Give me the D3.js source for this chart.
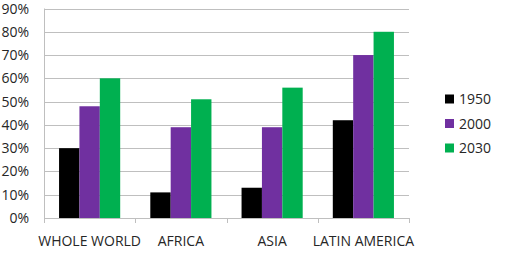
<!DOCTYPE html>
<html>
<head>
<meta charset="UTF-8">
<style>
body { margin: 0; background: #fff; }
svg { display: block; }
text { font-family: "Open Sans", sans-serif; fill: #262626; }
</style>
</head>
<body>
<svg width="512" height="254"></svg>
<script src="https://cdn.jsdelivr.net/npm/d3@7"></script>
<script>
var regions = ["WHOLE WORLD", "AFRICA", "ASIA", "LATIN AMERICA"];
var years = ["1950", "2000", "2030"];
var v1950 = [30, 11, 13, 42];
var v2000 = [48, 39, 39, 70];
var v2030 = [60, 51, 56, 80];
var yTicks = [0, 10, 20, 30, 40, 50, 60, 70, 80, 90];
var colors = ["#000000", "#7030a0", "#00b050"];

var series = [v1950, v2000, v2030];

var svg = d3.select("svg"),
    plotL = 44, plotR = 409, plotT = 8.5, plotB = 218;

var x = d3.scaleBand().domain(regions).range([plotL, plotR]).paddingInner(0.33).paddingOuter(0.165);
var xs = d3.scaleBand().domain(years).range([0, x.bandwidth()]);
var y = d3.scaleLinear().domain([0, 90]).range([plotB, plotT]);

// gridlines
svg.append("g").selectAll("line").data(yTicks).join("line")
    .attr("x1", plotL).attr("x2", plotR)
    .attr("y1", d => Math.round(y(d)) + 0.5).attr("y2", d => Math.round(y(d)) + 0.5)
    .attr("stroke", "#bfbfbf").attr("stroke-width", 1);

// y labels
svg.append("g").selectAll("text").data(yTicks).join("text")
    .attr("x", 29).attr("y", d => y(d)).attr("dy", "0.36em")
    .attr("text-anchor", "end").style("font-size", "14px")
    .text(d => d + "%");

// bars
regions.forEach((r, i) => {
  svg.append("g").selectAll("rect").data(series).join("rect")
      .attr("x", (s, j) => x(r) + xs(years[j]))
      .attr("width", xs.bandwidth())
      .attr("y", s => y(s[i]))
      .attr("height", s => plotB - y(s[i]))
      .attr("fill", (s, j) => colors[j]);
});

// x axis line + category ticks
var xTickPos = [plotL].concat(regions.map(r => x(r) + x.bandwidth() + x.step() * x.paddingInner() / 2));
svg.append("line").attr("x1", plotL).attr("x2", plotR)
    .attr("y1", plotB + 0.5).attr("y2", plotB + 0.5).attr("stroke", "#bfbfbf");
svg.append("g").selectAll("line").data(xTickPos).join("line")
    .attr("x1", d => Math.round(d) + 0.5).attr("x2", d => Math.round(d) + 0.5)
    .attr("y1", plotB).attr("y2", plotB + 5).attr("stroke", "#bfbfbf");
svg.append("line").attr("x1", plotL + 0.5).attr("x2", plotL + 0.5)
    .attr("y1", plotT).attr("y2", plotB).attr("stroke", "#bfbfbf");

svg.append("g").selectAll("text").data(regions).join("text")
    .attr("x", d => x(d) + x.bandwidth() / 2).attr("y", 246)
    .attr("text-anchor", "middle").style("font-size", "14px")
    .text(d => d);

// legend
var leg = svg.append("g").selectAll("g").data(years).join("g")
    .attr("transform", (d, i) => "translate(445," + (99 + i * 24.5) + ")");
leg.append("rect").attr("x", 0).attr("y", -4.5).attr("width", 9).attr("height", 9)
    .attr("fill", (d, i) => colors[i]);
leg.append("text").attr("x", 14).attr("y", 0).attr("dy", "0.36em")
    .style("font-size", "14px").text(d => d);
</script>
</body>
</html>
